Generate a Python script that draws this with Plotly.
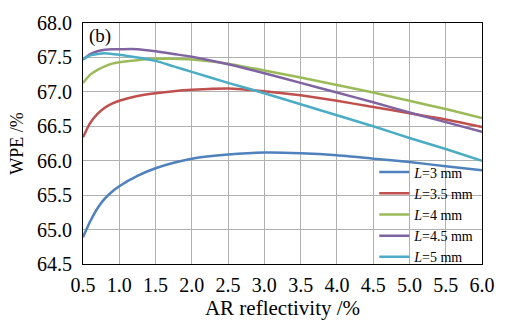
import plotly.graph_objects as go

x_vals = [0.5, 0.6, 0.7, 0.8, 0.9, 1.0, 1.25, 1.5, 1.75, 2.0, 2.5, 3.0, 3.5, 4.0, 4.5, 5.0, 5.5, 6.0]
wpe_L3 = [64.89, 65.12, 65.31, 65.45, 65.55, 65.63, 65.78, 65.89, 65.97, 66.03, 66.09, 66.12, 66.11, 66.08, 66.03, 65.98, 65.92, 65.86]
wpe_L35 = [66.34, 66.55, 66.68, 66.77, 66.83, 66.87, 66.94, 66.98, 67.01, 67.03, 67.05, 67.01, 66.95, 66.87, 66.78, 66.69, 66.60, 66.49]
wpe_L4 = [67.13, 67.25, 67.32, 67.37, 67.41, 67.43, 67.46, 67.48, 67.48, 67.47, 67.41, 67.31, 67.21, 67.10, 66.99, 66.87, 66.75, 66.62]
wpe_L45 = [67.47, 67.55, 67.59, 67.61, 67.62, 67.62, 67.62, 67.59, 67.55, 67.51, 67.40, 67.27, 67.13, 66.99, 66.85, 66.70, 66.56, 66.42]
wpe_L5 = [67.47, 67.53, 67.55, 67.56, 67.55, 67.54, 67.50, 67.45, 67.37, 67.29, 67.13, 66.98, 66.82, 66.66, 66.50, 66.33, 66.17, 66.00]

series_names = ["<i>L</i>=3 mm", "<i>L</i>=3.5 mm", "<i>L</i>=4 mm", "<i>L</i>=4.5 mm", "<i>L</i>=5 mm"]
series_vals = [wpe_L3, wpe_L35, wpe_L4, wpe_L45, wpe_L5]
colors = ["#4F81BD", "#C0504D", "#9BBB59", "#8064A2", "#4BACC6"]

x_ticks = [0.5, 1.0, 1.5, 2.0, 2.5, 3.0, 3.5, 4.0, 4.5, 5.0, 5.5, 6.0]
y_ticks = [64.5, 65.0, 65.5, 66.0, 66.5, 67.0, 67.5, 68.0]

FONT = "Liberation Serif, Times New Roman, serif"

fig = go.Figure()
for name, vals, c in zip(series_names, series_vals, colors):
    fig.add_trace(go.Scatter(x=x_vals, y=vals, mode="lines", name=name,
                             line=dict(color=c, width=2.5, shape="spline", smoothing=0.6)))

fig.update_layout(
    width=507, height=323,
    margin=dict(l=83, r=24, t=16, b=56),
    paper_bgcolor="white", plot_bgcolor="white",
    font=dict(family=FONT, color="black", size=20),
    showlegend=True,
    legend=dict(x=0.73, y=-0.035, xanchor="left", yanchor="bottom",
                bgcolor="rgba(0,0,0,0)", font=dict(family=FONT, size=14, color="black"),
                tracegroupgap=0, itemwidth=30),
    annotations=[dict(text="(b)", x=0.01, y=0.945, xref="paper", yref="paper",
                      xanchor="left", yanchor="middle", showarrow=False,
                      font=dict(family=FONT, size=19, color="black"))],
)
fig.update_xaxes(range=[0.5, 6.0], tickvals=x_ticks, ticktext=[f"{v:.1f}" for v in x_ticks],
                 tickfont=dict(family=FONT, size=20, color="black"),
                 showgrid=True, gridcolor="#b0b0b0", gridwidth=1,
                 showline=True, linecolor="black", linewidth=1, mirror=True,
                 ticks="", ticklabelstandoff=3, zeroline=False,
                 title=dict(text="AR reflectivity /%", font=dict(family=FONT, size=21, color="black"), standoff=0))
fig.update_yaxes(range=[64.5, 68.0], tickvals=y_ticks, ticktext=[f"{v:.1f}" for v in y_ticks],
                 tickfont=dict(family=FONT, size=20, color="black"),
                 showgrid=True, gridcolor="#b0b0b0", gridwidth=1,
                 showline=True, linecolor="black", linewidth=1, mirror=True,
                 ticks="", ticklabelstandoff=6, zeroline=False,
                 title=dict(text="WPE /%", font=dict(family=FONT, size=18, color="black"), standoff=8))

fig.write_html("out.html")
